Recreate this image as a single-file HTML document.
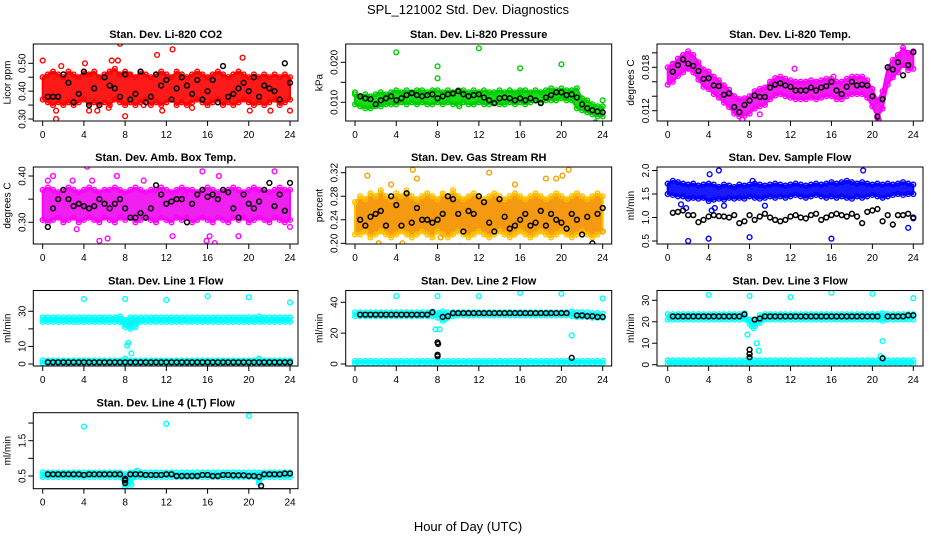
<!DOCTYPE html>
<html><head><meta charset="utf-8"><style>
html,body{margin:0;padding:0;background:#fff;}
svg text{font-family:"Liberation Sans",sans-serif;}
</style></head><body>
<svg id="chart" width="936" height="540" viewBox="0 0 936 540" xmlns="http://www.w3.org/2000/svg">
<text x="468" y="14" text-anchor="middle" font-size="13">SPL_121002  Std. Dev. Diagnostics</text>
<text x="468" y="531" text-anchor="middle" font-size="13">Hour of Day (UTC)</text>
</svg>
<script>
const hours=[0,0.5,1,1.5,2,2.5,3,3.5,4,4.5,5,5.5,6,6.5,7,7.5,8,8.5,9,9.5,10,10.5,11,11.5,12,12.5,13,13.5,14,14.5,15,15.5,16,16.5,17,17.5,18,18.5,19,19.5,20,20.5,21,21.5,22,22.5,23,23.5,24];
const xTicks=[0,4,8,12,16,20,24];

// Panel 1: CO2
const co2Hi=[0.45,0.46,0.47,0.46,0.45,0.47,0.46,0.45,0.47,0.46,0.47,0.45,0.46,0.47,0.48,0.46,0.47,0.46,0.45,0.47,0.46,0.45,0.46,0.47,0.46,0.45,0.47,0.46,0.45,0.46,0.47,0.46,0.45,0.46,0.47,0.46,0.45,0.46,0.47,0.46,0.45,0.46,0.45,0.46,0.45,0.46,0.45,0.46,0.45];
const co2Lo=[0.37,0.36,0.35,0.36,0.35,0.36,0.35,0.36,0.37,0.35,0.36,0.35,0.36,0.35,0.37,0.36,0.35,0.36,0.35,0.36,0.37,0.35,0.36,0.35,0.36,0.37,0.35,0.36,0.35,0.36,0.37,0.36,0.35,0.36,0.37,0.35,0.36,0.35,0.36,0.37,0.36,0.35,0.36,0.35,0.36,0.37,0.35,0.36,0.37];
const co2Black=[null,0.38,0.38,0.38,0.46,0.43,0.36,0.39,0.47,0.35,0.41,0.35,0.45,0.42,0.41,0.38,0.46,0.37,0.39,0.47,0.36,0.38,0.46,0.42,0.44,0.37,0.41,0.45,0.42,0.39,0.44,0.37,0.40,0.44,0.36,0.49,0.38,0.39,0.41,0.43,0.40,0.45,0.38,0.42,0.41,0.40,0.37,0.50,0.43];
const co2OutT=[0,1.3,1.3,1.8,4.1,4.5,5.3,6.4,6.7,7.3,7.5,8,8.4,9.8,11.1,11.6,12.6,14.5,19.4,20.1,22.1,24];
const co2OutV=[0.51,0.33,0.30,0.49,0.50,0.33,0.33,0.34,0.51,0.51,0.57,0.31,0.46,0.35,0.53,0.33,0.55,0.34,0.52,0.33,0.33,0.33];

// Panel 2: Pressure
const prHi=[0.012,0.0115,0.012,0.0115,0.012,0.0125,0.012,0.0125,0.013,0.0125,0.013,0.0125,0.013,0.013,0.0125,0.013,0.013,0.0125,0.013,0.0125,0.013,0.013,0.0125,0.013,0.0125,0.013,0.0125,0.0125,0.013,0.0125,0.013,0.0125,0.013,0.013,0.0125,0.013,0.0125,0.013,0.0135,0.013,0.0135,0.013,0.013,0.0135,0.011,0.0105,0.0095,0.009,0.009];
const prLo=[0.0095,0.009,0.0085,0.0085,0.009,0.009,0.0095,0.0095,0.0095,0.01,0.0095,0.01,0.0095,0.01,0.0095,0.0095,0.01,0.0095,0.01,0.0095,0.0095,0.01,0.0095,0.0095,0.01,0.0095,0.0095,0.01,0.0095,0.0095,0.01,0.0095,0.01,0.0095,0.01,0.0105,0.01,0.0105,0.0105,0.0105,0.011,0.0105,0.0105,0.0085,0.008,0.0075,0.007,0.0065,0.0065];
const prBlack=[null,0.0115,0.011,0.0108,0.0095,0.0105,0.011,0.0115,0.0105,0.011,0.0118,0.0123,0.0118,0.0115,0.0118,0.012,0.011,0.0115,0.012,0.0122,0.0128,0.012,0.0115,0.0118,0.012,0.0112,0.0105,0.0098,0.011,0.0112,0.011,0.0105,0.011,0.0105,0.011,0.0105,0.0098,0.0112,0.0118,0.0125,0.0125,0.0118,0.012,0.0112,0.0095,0.0085,0.008,0.0077,0.0075];
const prOutT=[4,8,8,12,16,20,10.1,24,23.3,0,16];
const prOutV=[0.0225,0.019,0.016,0.0235,0.0185,0.0195,0.009,0.0105,0.005,0.0125,0.0125];

// Panel 3: Li-820 Temp
const tmpHi=[0.018,0.0184,0.0192,0.0197,0.0202,0.0197,0.0187,0.0177,0.0174,0.0167,0.0162,0.0155,0.0149,0.014,0.0136,0.0137,0.014,0.0147,0.015,0.0152,0.016,0.0165,0.0167,0.0164,0.0162,0.016,0.016,0.016,0.0162,0.016,0.0162,0.0164,0.0164,0.016,0.016,0.0164,0.0167,0.0167,0.0167,0.0162,0.015,0.0134,0.0147,0.018,0.019,0.0197,0.0207,0.02,0.0202];
const tmpLo=[0.0156,0.016,0.0168,0.0173,0.0178,0.0173,0.0163,0.0153,0.015,0.0143,0.0138,0.0131,0.0125,0.0116,0.0112,0.0113,0.0116,0.0123,0.0126,0.0128,0.0136,0.0141,0.0143,0.014,0.0138,0.0136,0.0136,0.0136,0.0138,0.0136,0.0138,0.014,0.014,0.0136,0.0136,0.014,0.0143,0.0143,0.0143,0.0138,0.0126,0.011,0.0123,0.0156,0.0166,0.0173,0.0183,0.0176,0.0178];
const tmpBlack=[null,0.0174,0.0183,0.0191,0.0185,0.0182,0.0175,0.0164,0.0165,0.0155,0.0154,0.0142,0.0144,0.0125,0.0118,0.0128,0.0134,0.0141,0.0139,0.0139,0.0152,0.0156,0.0158,0.0155,0.0153,0.0148,0.0148,0.0148,0.0152,0.0148,0.0152,0.0154,0.016,0.0148,0.0143,0.0153,0.016,0.0155,0.0156,0.0155,0.014,0.0112,0.0136,0.018,0.0177,0.0187,0.0169,0.0183,0.0201];
const tmpOutT=[12.4,16.2,0.5,7.3,20.6,9.0];
const tmpOutV=[0.0178,0.0167,0.0185,0.0108,0.0108,0.0115];

// Panel 4: Amb Box Temp
const ambHi=[0.37,0.375,0.37,0.365,0.37,0.375,0.37,0.365,0.37,0.375,0.37,0.365,0.37,0.37,0.375,0.37,0.365,0.37,0.375,0.37,0.365,0.37,0.37,0.375,0.37,0.365,0.37,0.375,0.37,0.37,0.365,0.37,0.375,0.37,0.365,0.37,0.37,0.375,0.37,0.365,0.37,0.375,0.37,0.37,0.365,0.37,0.375,0.37,0.37];
const ambLo=[0.305,0.30,0.305,0.31,0.30,0.305,0.31,0.30,0.305,0.31,0.305,0.30,0.31,0.305,0.30,0.31,0.305,0.31,0.30,0.305,0.31,0.305,0.30,0.31,0.305,0.30,0.31,0.305,0.31,0.30,0.305,0.31,0.305,0.30,0.31,0.305,0.30,0.31,0.305,0.31,0.30,0.305,0.31,0.305,0.30,0.31,0.305,0.30,0.305];
const ambBlack=[null,0.29,0.33,0.35,0.37,0.35,0.335,0.34,0.335,0.33,0.335,0.35,0.34,0.33,0.34,0.35,0.33,0.31,0.31,0.32,0.31,0.33,0.38,0.36,0.34,0.345,0.35,0.35,0.30,0.34,0.36,0.37,0.355,0.36,0.35,0.37,0.365,0.33,0.31,0.36,0.34,0.33,0.345,0.37,0.385,0.335,0.36,0.325,0.385];
const ambOutT=[0.5,1,2.9,4.3,4.8,5.5,7.2,9.8,12.6,13.8,15.5,16.2,16.7,17.1,19,22.5,24,15.9,6.3,3.3];
const ambOutV=[0.39,0.40,0.39,0.42,0.39,0.26,0.40,0.39,0.27,0.36,0.41,0.27,0.255,0.40,0.27,0.41,0.29,0.26,0.265,0.285];

// Panel 5: Gas Stream RH
const rhHi=[0.27,0.28,0.275,0.285,0.28,0.29,0.28,0.275,0.285,0.28,0.29,0.28,0.275,0.28,0.285,0.28,0.275,0.285,0.28,0.29,0.28,0.275,0.28,0.285,0.28,0.275,0.28,0.285,0.28,0.275,0.28,0.285,0.28,0.275,0.28,0.285,0.28,0.275,0.28,0.285,0.28,0.275,0.28,0.285,0.28,0.275,0.28,0.285,0.28];
const rhLo=[0.215,0.215,0.22,0.21,0.215,0.22,0.215,0.21,0.215,0.22,0.215,0.21,0.215,0.22,0.215,0.21,0.22,0.215,0.21,0.215,0.22,0.215,0.21,0.215,0.22,0.215,0.21,0.215,0.22,0.215,0.21,0.215,0.22,0.215,0.21,0.215,0.22,0.215,0.21,0.215,0.22,0.215,0.21,0.215,0.22,0.215,0.21,0.215,0.22];
const rhBlack=[null,0.24,0.23,0.245,0.25,0.255,0.23,0.28,0.265,0.23,0.285,0.235,0.26,0.24,0.24,0.235,0.24,0.25,0.28,0.275,0.25,0.22,0.255,0.25,0.28,0.27,0.235,0.22,0.275,0.245,0.225,0.23,0.24,0.25,0.23,0.235,0.255,0.23,0.25,0.24,0.235,0.225,0.25,0.24,0.215,0.245,0.20,0.25,0.26];
const rhOutT=[1.2,2.3,4.6,5.6,6,13,15.5,18.5,19.5,20.1,20.7,24,10.2,8.3,3.5];
const rhOutV=[0.315,0.20,0.20,0.325,0.31,0.32,0.30,0.31,0.31,0.315,0.325,0.22,0.195,0.21,0.30];

// Panel 6: Sample Flow
const sfHi=[1.72,1.78,1.75,1.72,1.7,1.72,1.68,1.7,1.72,1.7,1.65,1.7,1.68,1.65,1.7,1.68,1.7,1.72,1.7,1.68,1.7,1.72,1.7,1.68,1.7,1.72,1.7,1.68,1.7,1.72,1.7,1.72,1.75,1.72,1.75,1.78,1.75,1.72,1.75,1.72,1.7,1.72,1.7,1.72,1.7,1.72,1.75,1.72,1.7];
const sfLo=[1.5,1.48,1.45,1.45,1.4,1.42,1.4,1.42,1.35,1.38,1.4,1.38,1.42,1.4,1.42,1.4,1.45,1.42,1.4,1.42,1.45,1.42,1.45,1.42,1.45,1.48,1.45,1.42,1.45,1.48,1.45,1.42,1.45,1.42,1.45,1.42,1.4,1.45,1.42,1.45,1.48,1.45,1.42,1.45,1.48,1.5,1.48,1.5,1.5];
const sfBlack=[null,1.1,1.12,1.15,1.05,1.05,0.9,0.95,1.02,1.05,1.03,1.02,1.0,1.05,0.88,0.92,1.05,0.95,1.02,1.08,1.0,0.95,0.92,0.95,1.02,1.05,1.0,0.98,1.05,1.08,0.95,1.0,1.05,1.08,1.05,1.02,1.08,1.02,0.88,1.12,1.15,1.18,0.92,1.05,0.85,1.05,1.05,1.08,1.0];
const sfOutT=[2,4,8,16,1.3,1.8,4.3,4.1,5,19.1,23.5,24,9.5,8.3,4.6,5.5];
const sfOutV=[0.5,0.55,0.58,0.55,1.28,1.2,1.15,1.92,2.0,2.0,0.78,0.98,1.25,1.78,1.2,1.25];

// Panel 7: Line 1 Flow
const l1UpHi=[26.5,26.5,26.5,26.5,26.5,26.5,26.5,26.5,26.5,26.5,26.5,26.5,26.5,26.5,26.5,27,25,26.5,26.5,26.5,26.5,26.5,26.5,26.5,26.5,26.5,26.5,26.5,26.5,26.5,26.5,26.5,26.5,26.5,26.5,26.5,26.5,26.5,26.5,26.5,26.5,26.5,27,26.5,26.5,26.5,26.5,26.5,26.5];
const l1UpLo=[24,24,24,24,24,24,24,24,24,24,24,24,24,24,24,24,21,20,21,24,24,24,24,24,24,24,24,24,24,24,24,24,24,24,24,24,24,24,24,24,24,24,24,24,24,24,24,24,24];
const l1DnHi=[2,2,2,2,2,2,2,2,2,2,2,2,2,2,2,2,2,2,2,2,2,2,2,2,2,2,2,2,2,2,2,2,2,2,2,2,2,2,2,2,2,2,2,2,2,2,2,2,2];
const l1DnLo=[0.5,0.5,0.5,0.5,0.5,0.5,0.5,0.5,0.5,0.5,0.5,0.5,0.5,0.5,0.5,0.5,0.5,0.5,0.5,0.5,0.5,0.5,0.5,0.5,0.5,0.5,0.5,0.5,0.5,0.5,0.5,0.5,0.5,0.5,0.5,0.5,0.5,0.5,0.5,0.5,0.5,0.5,0.5,0.5,0.5,0.5,0.5,0.5,0.5];
const l1Black=[null,1,1,1,1,1,1,1,1,1,1,1,1,1,1,1,1,1,1,1,1,1,1,1,1,1,1,1,1,1,1,1,1,1,1,1,1,1,1,1,1,1,1,1,1,1,1,1,1];
const l1OutT=[4,8,12,16,20,24,8.2,8.3,8.6,8,21,7.5,21,23];
const l1OutV=[37,37,36.5,38.5,38,35,10.5,12,6,3,3,27,27,-0.5];

// Panel 8: Line 2 Flow
const l2UpHi=[33.5,33.5,33.5,33.5,33.5,33.5,33.5,33.5,33.5,33.5,33.5,33.5,33.5,33.5,33.5,34,33,34,33.5,33.5,33.5,33.5,33.5,33.5,33.5,33.5,33.5,33.5,33.5,33.5,33.5,33.5,33.5,33.5,33.5,33.5,33.5,33.5,33.5,33.5,33.5,33.5,34,33.5,33.5,33.5,33,33,32.5];
const l2UpLo=[31,31,31,31,31,31,31,31,31,31,31,31,31,31,31,31,30,28,30,31,31.5,31.5,31.5,31.5,31.5,31.5,31.5,31.5,31.5,31.5,31.5,31.5,31.5,31.5,31.5,31.5,31.5,31.5,31.5,31.5,31.5,31.5,31,30.5,30.5,30.5,30,30,30];
const l2DnHi=[2,2,2,2,2,2,2,2,2,2,2,2,2,2,2,2,2,2,2,2,2,2,2,2,2,2,2,2,2,2,2,2,2,2,2,2,2,2,2,2,2,2,2,2,2,2,2,2,2];
const l2DnLo=[0.3,0.3,0.3,0.3,0.3,0.3,0.3,0.3,0.3,0.3,0.3,0.3,0.3,0.3,0.3,0.3,0.3,0.3,0.3,0.3,0.3,0.3,0.3,0.3,0.3,0.3,0.3,0.3,0.3,0.3,0.3,0.3,0.3,0.3,0.3,0.3,0.3,0.3,0.3,0.3,0.3,0.3,0.3,0.3,0.3,0.3,0.3,0.3,0.3];
const l2Black=[null,32,32,32,32,32,32,32,32,32,32,32,32,32,32,33.5,14,30.5,31,33,33,33,33,33,33,33,33,33,33,33,33,33,33,33,33,33,33,33,33,33,33,33,4,31.5,31.5,31,31,30.5,30.5];
const l2BOutT=[8,8,8.05];
const l2BOutV=[6,5,13];
const l2OutT=[4,8,12,16,20,24,7.8,8.2,8.7,21,21];
const l2OutV=[44,44,44,46,45.5,42.5,22.5,22.5,29,18.5,34];

// Panel 9: Line 3 Flow
const l3UpHi=[23.5,23.5,23.5,23.5,23.5,23.5,23.5,23.5,23.5,23.5,23.5,23.5,23.5,23.5,23.5,24,21,21,23,23.5,23.5,23.5,23.5,23.5,23.5,23.5,23.5,23.5,23.5,23.5,23.5,23.5,23.5,23.5,23.5,23.5,23.5,23.5,23.5,23.5,23.5,23.5,24,23.5,23.5,23.5,23.5,23.5,23.5];
const l3UpLo=[21,21,21,21,21,21,21,21,21,21,21,21,21,21,21,21,19,18,19.5,21,21,21,21,21,21,21,21,21,21,21,21,21,21,21,21,21,21,21,21,21,21,21,20.5,21,21,21,21,21,21];
const l3DnHi=[2,2,2,2,2,2,2,2,2,2,2,2,2,2,2,2,2,2,2,2,2,2,2,2,2,2,2,2,2,2,2,2,2,2,2,2,2,2,2,2,2,2,2,2,2,2,2,2,2];
const l3DnLo=[0.3,0.3,0.3,0.3,0.3,0.3,0.3,0.3,0.3,0.3,0.3,0.3,0.3,0.3,0.3,0.3,0.3,0.3,0.3,0.3,0.3,0.3,0.3,0.3,0.3,0.3,0.3,0.3,0.3,0.3,0.3,0.3,0.3,0.3,0.3,0.3,0.3,0.3,0.3,0.3,0.3,0.3,0.3,0.3,0.3,0.3,0.3,0.3,0.3];
const l3Black=[null,22.5,22.5,22.5,22.5,22.5,22.5,22.5,22.5,22.5,22.5,22.5,22.5,22.5,22.5,23.5,7,21,21.5,22.5,22.5,22.5,22.5,22.5,22.5,22.5,22.5,22.5,22.5,22.5,22.5,22.5,22.5,22.5,22.5,22.5,22.5,22.5,22.5,22.5,22.5,22.5,3,22.5,22.5,22.5,22.5,23,23];
const l3BOutT=[8,8];
const l3BOutV=[5,3.5];
const l3OutT=[4,8,12,16,20,24,7.8,8.2,8.4,8.7,8.9,21,20.8];
const l3OutV=[32.5,32,31.5,33.5,33,31,14,18,17,10,6.5,11,4];

// Panel 10: Line 4 Flow
const l4Hi=[0.6,0.6,0.6,0.6,0.6,0.6,0.6,0.6,0.6,0.6,0.6,0.6,0.6,0.6,0.6,0.6,0.55,0.6,0.62,0.6,0.6,0.6,0.6,0.6,0.6,0.6,0.6,0.6,0.6,0.6,0.6,0.6,0.6,0.6,0.6,0.6,0.6,0.6,0.6,0.6,0.6,0.6,0.6,0.6,0.6,0.6,0.6,0.6,0.6];
const l4Lo=[0.47,0.47,0.47,0.47,0.47,0.47,0.47,0.47,0.47,0.47,0.47,0.47,0.47,0.47,0.47,0.47,0.2,0.3,0.47,0.47,0.47,0.47,0.47,0.47,0.47,0.47,0.47,0.47,0.47,0.47,0.47,0.47,0.47,0.47,0.47,0.47,0.47,0.47,0.47,0.47,0.47,0.47,0.3,0.47,0.47,0.47,0.47,0.47,0.47];
const l4Black=[null,0.55,0.55,0.55,0.55,0.55,0.55,0.55,0.53,0.55,0.55,0.55,0.55,0.55,0.55,0.55,0.38,0.55,0.55,0.55,0.53,0.53,0.53,0.53,0.55,0.55,0.5,0.5,0.5,0.5,0.5,0.53,0.53,0.5,0.5,0.53,0.53,0.52,0.52,0.52,0.5,0.5,0.48,0.55,0.55,0.55,0.55,0.57,0.57];
const l4BOutT=[8,8,21.2];
const l4BOutV=[0.3,0.42,0.22];
const l4OutT=[4,12,20,8.2,8.6,21,9.2];
const l4OutV=[1.9,1.98,2.2,0.25,0.25,0.3,0.65];

const svg=document.getElementById('chart');
const NS='http://www.w3.org/2000/svg';
function mk(tag,attrs,parent){const e=document.createElementNS(NS,tag);for(const k in attrs)e.setAttribute(k,attrs[k]);(parent||svg).appendChild(e);return e;}

const cols=[{l:33.3,r:298,x0:42.7,x24:290},{l:345.7,r:611.7,x0:355,x24:602.7},{l:657,r:923,x0:667.7,x24:913.3}];
const rows=[{t:44,b:121},{t:167,b:244},{t:290.5,b:366},{t:412.7,b:488.7}];

const panels=[
 {name:'co2',title:'Stan. Dev. Li-820 CO2',ylab:'Licor ppm',c:0,r:0,v1:0.30,p1:119,v2:0.50,p2:63.3,ticks:[0.30,0.35,0.40,0.45,0.50],labels:[0.30,0.40,0.50],fmt:2,color:'#ff0000',fill:'#ff1a1a',bands:[[co2Hi,co2Lo]],black:co2Black,outT:co2OutT,outV:co2OutV},
 {name:'pressure',title:'Stan. Dev. Li-820 Pressure',ylab:'kPa',c:1,r:0,v1:0.010,p1:102.3,v2:0.020,p2:62.3,ticks:[0.010,0.015,0.020],labels:[0.010,0.020],fmt:3,color:'#00cc00',fill:'#14e014',bands:[[prHi,prLo]],black:prBlack,outT:prOutT,outV:prOutV},
 {name:'li820-temp',title:'Stan. Dev. Li-820 Temp.',ylab:'degrees C',c:2,r:0,v1:0.012,p1:110.7,v2:0.018,p2:67.3,ticks:[0.012,0.014,0.016,0.018,0.020],labels:[0.012,0.018],fmt:3,color:'#ff00ff',fill:'#f020f0',bands:[[tmpHi,tmpLo]],black:tmpBlack,outT:tmpOutT,outV:tmpOutV},
 {name:'amb-box-temp',title:'Stan. Dev. Amb. Box Temp.',ylab:'degrees C',c:0,r:1,v1:0.30,p1:222.3,v2:0.40,p2:176,ticks:[0.30,0.35,0.40],labels:[0.30,0.40],fmt:2,color:'#ff00ff',fill:'#f020f0',bands:[[ambHi,ambLo]],black:ambBlack,outT:ambOutT,outV:ambOutV},
 {name:'gas-stream-rh',title:'Stan. Dev. Gas Stream RH',ylab:'percent',c:1,r:1,v1:0.20,p1:243.3,v2:0.32,p2:172.7,ticks:[0.20,0.24,0.28,0.32],labels:[0.20,0.24,0.28,0.32],fmt:2,color:'#ffc000',fill:'#f59a10',bands:[[rhHi,rhLo]],black:rhBlack,outT:rhOutT,outV:rhOutV},
 {name:'sample-flow',title:'Stan. Dev. Sample Flow',ylab:'ml/min',c:2,r:1,v1:0.5,p1:241,v2:2.0,p2:170.5,ticks:[0.5,1.0,1.5,2.0],labels:[0.5,1.0,1.5,2.0],fmt:1,color:'#0000ff',fill:'#1a1aff',bands:[[sfHi,sfLo]],black:sfBlack,outT:sfOutT,outV:sfOutV},
 {name:'line1-flow',title:'Stan. Dev. Line 1 Flow',ylab:'ml/min',c:0,r:2,v1:0,p1:364,v2:30,p2:311.3,ticks:[0,10,20,30],labels:[0,10,30],fmt:0,color:'#00ffff',fill:'#10f0f0',bands:[[l1UpHi,l1UpLo],[l1DnHi,l1DnLo]],black:l1Black,outT:l1OutT,outV:l1OutV},
 {name:'line2-flow',title:'Stan. Dev. Line 2 Flow',ylab:'ml/min',c:1,r:2,v1:0,p1:364,v2:40,p2:302.3,ticks:[0,20,40],labels:[0,20,40],fmt:0,color:'#00ffff',fill:'#10f0f0',bands:[[l2UpHi,l2UpLo],[l2DnHi,l2DnLo]],black:l2Black,bOutT:l2BOutT,bOutV:l2BOutV,outT:l2OutT,outV:l2OutV},
 {name:'line3-flow',title:'Stan. Dev. Line 3 Flow',ylab:'ml/min',c:2,r:2,v1:0,p1:364.7,v2:30,p2:300.3,ticks:[0,10,20,30],labels:[0,10,20,30],fmt:0,color:'#00ffff',fill:'#10f0f0',bands:[[l3UpHi,l3UpLo],[l3DnHi,l3DnLo]],black:l3Black,bOutT:l3BOutT,bOutV:l3BOutV,outT:l3OutT,outV:l3OutV},
 {name:'line4-flow',title:'Stan. Dev. Line 4 (LT) Flow',ylab:'ml/min',c:0,r:3,v1:0.5,p1:476,v2:1.5,p2:440.7,ticks:[0.5,1.0,1.5,2.0],labels:[0.5,1.5],fmt:1,color:'#00ffff',fill:'#10f0f0',bands:[[l4Hi,l4Lo]],black:l4Black,bOutT:l4BOutT,bOutV:l4BOutV,outT:l4OutT,outV:l4OutV}
];

panels.forEach(P=>{
 const C=cols[P.c],R=rows[P.r];
 const xs=t=>C.x0+(t/24)*(C.x24-C.x0);
 const ys=v=>P.p1+(v-P.v1)*(P.p2-P.p1)/(P.v2-P.v1);
 const g=mk('g',{});
 
 
 const clipId='clip-'+P.name;
 const cp=mk('clipPath',{id:clipId},g);
 mk('rect',{x:C.l,y:R.t,width:C.r-C.l,height:R.b-R.t},cp);
 const title=mk('text',{x:(C.l+C.r)/2,y:R.t-6,'text-anchor':'middle','font-size':'11','font-weight':'bold'},g);
 title.textContent=P.title;
 
 
 const yl=mk('text',{x:0,y:0,'text-anchor':'middle','font-size':'10',transform:`translate(${C.l-23},${(R.t+R.b)/2}) rotate(-90)`},g);
 yl.textContent=P.ylab;
 
 
 const plot=mk('g',{'clip-path':`url(#${clipId})`},g);
 
 
 P.bands.forEach((b,bi)=>{
  const hi=b[0],lo=b[1];
  let pts=[];
  for(let i=0;i<hours.length&&i<hi.length;i++)pts.push(xs(hours[i])+','+ys(hi[i]));
  for(let i=Math.min(hours.length,lo.length)-1;i>=0;i--)pts.push(xs(hours[i])+','+ys(lo[i]));
  const poly=mk('polygon',{points:pts.join(' '),fill:P.fill,stroke:P.color,'stroke-width':'2','stroke-linejoin':'round'},plot);
  
  
  [hi,lo].forEach(arr=>{
   for(let i=0;i<hours.length&&i<arr.length;i++){
    const c=mk('circle',{cx:xs(hours[i]),cy:ys(arr[i]),r:2.4,fill:'none',stroke:P.color,'stroke-width':1.4},plot);
    
    
   }
  });
 });
 for(let i=0;i<P.outT.length;i++){
  const c=mk('circle',{cx:xs(P.outT[i]),cy:ys(P.outV[i]),r:2.4,fill:'none',stroke:P.color==='#ffc000'?'#f0a000':P.color,'stroke-width':1.4},plot);
  
  
 }
 for(let i=0;i<hours.length&&i<P.black.length;i++){
  if(P.black[i]==null)continue;
  const c=mk('circle',{cx:xs(hours[i]),cy:ys(P.black[i]),r:2.4,fill:'none',stroke:'#000','stroke-width':1.5},plot);
  
  
 }
 if(P.bOutT){for(let i=0;i<P.bOutT.length;i++){
  const c=mk('circle',{cx:xs(P.bOutT[i]),cy:ys(P.bOutV[i]),r:2.4,fill:'none',stroke:'#000','stroke-width':1.5},plot);
  
  
 }}
 const box=mk('rect',{x:C.l,y:R.t,width:C.r-C.l,height:R.b-R.t,fill:'none',stroke:'#000','stroke-width':1},g);
 
 
 const xa=mk('g',{},g);
 
 
 mk('line',{x1:xs(0),x2:xs(24),y1:R.b,y2:R.b,stroke:'#000'},xa);
 xTicks.forEach(t=>{
  mk('line',{x1:xs(t),x2:xs(t),y1:R.b,y2:R.b+5,stroke:'#000'},xa);
  const tx=mk('text',{x:xs(t),y:R.b+17,'text-anchor':'middle','font-size':'10'},xa);
  tx.textContent=t;
  
  
 });
 const ya=mk('g',{},g);
 
 
 P.ticks.forEach(v=>{
  const y=ys(v);
  if(y<R.t-1||y>R.b+1)return;
  mk('line',{x1:C.l-5,x2:C.l,y1:y,y2:y,stroke:'#000'},ya);
 });
 P.labels.forEach(v=>{
  const tx=mk('text',{x:0,y:0,'text-anchor':'middle','font-size':'10',transform:`translate(${C.l-8},${ys(v)}) rotate(-90)`},ya);
  tx.textContent=v.toFixed(P.fmt);
  
  
 });
});
</script>
</body></html>
